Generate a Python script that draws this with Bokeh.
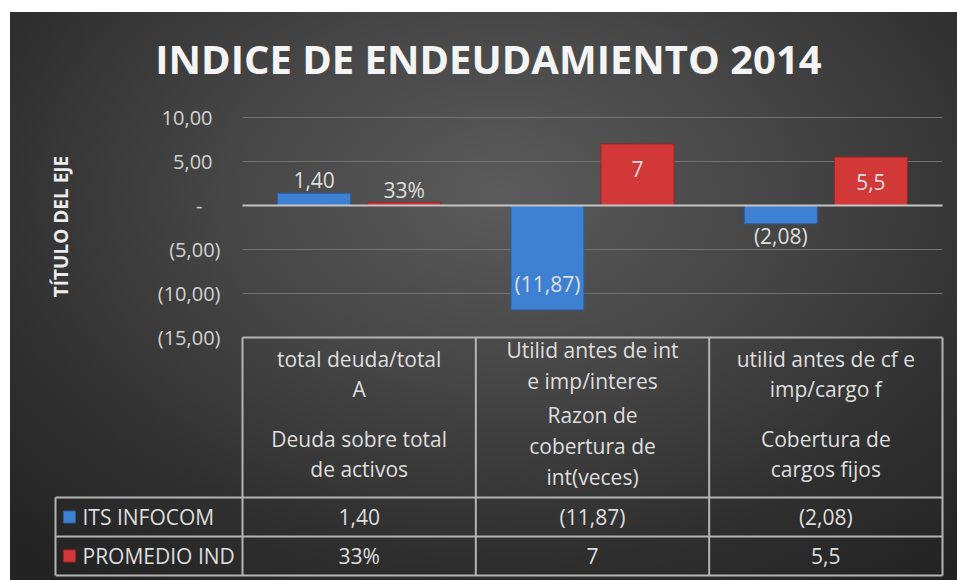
import numpy as np
from bokeh.plotting import figure
from bokeh.models import Range1d
from bokeh.core.properties import value
from bokeh.embed import file_html
from bokeh.resources import INLINE

# ---------------- data ----------------
title_text = "INDICE DE ENDEUDAMIENTO 2014"
axis_title = "TÍTULO DEL EJE"
cat_group1 = [["total deuda/total", "A"],
              ["Utilid antes de int", "e imp/interes"],
              ["utilid antes de cf e", "imp/cargo f"]]
cat_group2 = [["Deuda sobre total", "de activos"],
              ["Razon de", "cobertura de", "int(veces)"],
              ["Cobertura de", "cargos fijos"]]
series_names = ["ITS INFOCOM", "PROMEDIO IND"]
its_values = [1.40, -11.87, -2.08]
prom_values = [0.33, 7.0, 5.5]
its_labels = ["1,40", "(11,87)", "(2,08)"]
prom_labels = ["33%", "7", "5,5"]
y_ticks = [10, 5, 0, -5, -10, -15]
y_tick_labels = ["10,00", "5,00", "-", "(5,00)", "(10,00)", "(15,00)"]

# ---------------- geometry (pixels) ----------------
W, H = 947, 568
X0 = 232.0            # canvas px of category axis start
CAT_PX = 700.0 / 3    # px per category
Y0 = 193.0            # canvas px of value 0
UNIT_PX = 8.8         # px per value unit


def dx(px):
    return (px - X0) / CAT_PX


def dy(py):
    return (Y0 - py) / UNIT_PX


FONT = value("Open Sans")
BLUE, BLUE_EDGE = "#3e80d2", "#2b5e9f"
RED, RED_EDGE = "#d23838", "#9e2424"
TXT = "#dedede"
LINE = "#b4b4b4"

p = figure(width=W, height=H, output_backend="svg", toolbar_location=None,
           x_range=Range1d(dx(0), dx(W)), y_range=Range1d(dy(H), dy(0)),
           x_axis_type=None, y_axis_type=None, min_border=0,
           background_fill_color=None, border_fill_color=None,
           outline_line_color=None)
p.xgrid.visible = False
p.ygrid.visible = False
p.styles = {"background": "radial-gradient(ellipse 75% 85% at 52% 32%, #5b5b5b 0%, #454545 40%, #2f2f2f 75%, #232323 100%)",
            "margin-left": "10px", "margin-top": "12px"}

n = len(its_values)
idx = np.arange(n)
BAR_OFF, BAR_W = 0.193, 0.313
x_end = float(n)

# gridlines
grid_vals = [t for t in y_ticks if t not in (0, y_ticks[-1])]
p.segment(x0=[0] * len(grid_vals), x1=[x_end] * len(grid_vals), y0=grid_vals, y1=grid_vals,
          line_color="#727272", line_width=1)

# bars
p.vbar(x=idx + 0.5 - BAR_OFF, width=BAR_W, top=its_values, bottom=0,
       fill_color=BLUE, line_color=BLUE_EDGE, line_width=1)
p.vbar(x=idx + 0.5 + BAR_OFF, width=BAR_W, top=prom_values, bottom=0,
       fill_color=RED, line_color=RED_EDGE, line_width=1)

# zero line
p.segment(x0=[0], x1=[x_end], y0=[0], y1=[0], line_color="#c4c4c4", line_width=2)


def lab_off(v):
    if abs(v) < 3:
        return -13 if v >= 0 else 12
    return 25 if v > 0 else -26


p.text(x=idx + 0.5 - BAR_OFF, y=its_values, text=its_labels,
       y_offset=[lab_off(v) for v in its_values],
       text_align="center", text_baseline="middle", text_font=FONT,
       text_font_size="21px", text_color=TXT)
p.text(x=idx + 0.5 + BAR_OFF, y=prom_values, text=prom_labels,
       y_offset=[lab_off(v) for v in prom_values],
       text_align="center", text_baseline="middle", text_font=FONT,
       text_font_size="21px", text_color=TXT)

# y tick labels
def tick_off(s):
    if s.startswith("("):
        return 0
    if s == "-":
        return -18
    return -8


p.text(x=[dx(210)] * len(y_ticks), y=y_ticks, text=y_tick_labels,
       x_offset=[tick_off(s) for s in y_tick_labels],
       text_align="right", text_baseline="middle", text_font=FONT,
       text_font_size="20px", text_color="#d2d2d2")

# axis title
p.text(x=[dx(50)], y=[dy(214)], text=[axis_title], angle=np.pi / 2,
       text_align="center", text_baseline="middle", text_font=FONT,
       text_font_size="19px", text_font_style="bold", text_color="#ececec")

# chart title
p.text(x=[dx(478)], y=[dy(46)], text=[title_text],
       text_align="center", text_baseline="middle", text_font=FONT,
       text_font_size="40px", text_font_style="bold", text_color="#f4f4f4")

# ---------------- data table ----------------
T_TOP = y_ticks[-1]
R1, R2, BOT = dy(485), dy(524), dy(563)
LEG_X = dx(45)
hx0 = [0, LEG_X, LEG_X, LEG_X]
hy = [T_TOP, R1, R2, BOT]
p.segment(x0=hx0, x1=[x_end] * 4, y0=hy, y1=hy, line_color=LINE, line_width=2)
vx = list(range(n + 1)) + [LEG_X]
vy0 = [T_TOP] * (n + 1) + [R1]
p.segment(x0=vx, x1=vx, y0=vy0, y1=[BOT] * len(vx), line_color=LINE, line_width=2)

# header text lines
hdr_x, hdr_y, hdr_t = [], [], []
HDR_CENTER = 401.0
for i in range(n):
    g1, g2 = cat_group1[i], cat_group2[i]
    nlines = len(g1) + len(g2)
    lh = 30.0 if nlines <= 4 else 31.0
    gap = 20.0 if nlines <= 4 else 3.0
    total = nlines * lh + gap
    top = HDR_CENTER - total / 2
    ypos = top + lh / 2
    for j, s in enumerate(g1 + g2):
        if j == len(g1):
            ypos += gap
        hdr_x.append(i + 0.5)
        hdr_y.append(dy(ypos))
        hdr_t.append(s)
        ypos += lh
p.text(x=hdr_x, y=hdr_y, text=hdr_t, text_align="center", text_baseline="middle",
       text_font=FONT, text_font_size="21px", text_color=TXT)

row_y = [(R1 + R2) / 2, (R2 + BOT) / 2]
p.text(x=idx + 0.5, y=[row_y[0]] * n, text=its_labels, text_align="center",
       text_baseline="middle", text_font=FONT, text_font_size="21px", text_color=TXT)
p.text(x=idx + 0.5, y=[row_y[1]] * n, text=prom_labels, text_align="center",
       text_baseline="middle", text_font=FONT, text_font_size="21px", text_color=TXT)

# legend keys
p.scatter(x=[dx(59)] * 2, y=row_y, marker="square", size=12,
          fill_color=[BLUE, RED], line_color=[BLUE_EDGE, RED_EDGE])
p.text(x=[dx(72)] * 2, y=row_y, text=series_names, text_align="left",
       text_baseline="middle", text_font=FONT, text_font_size="21px", text_color=TXT)

open("out.html", "w").write(file_html(p, INLINE))
